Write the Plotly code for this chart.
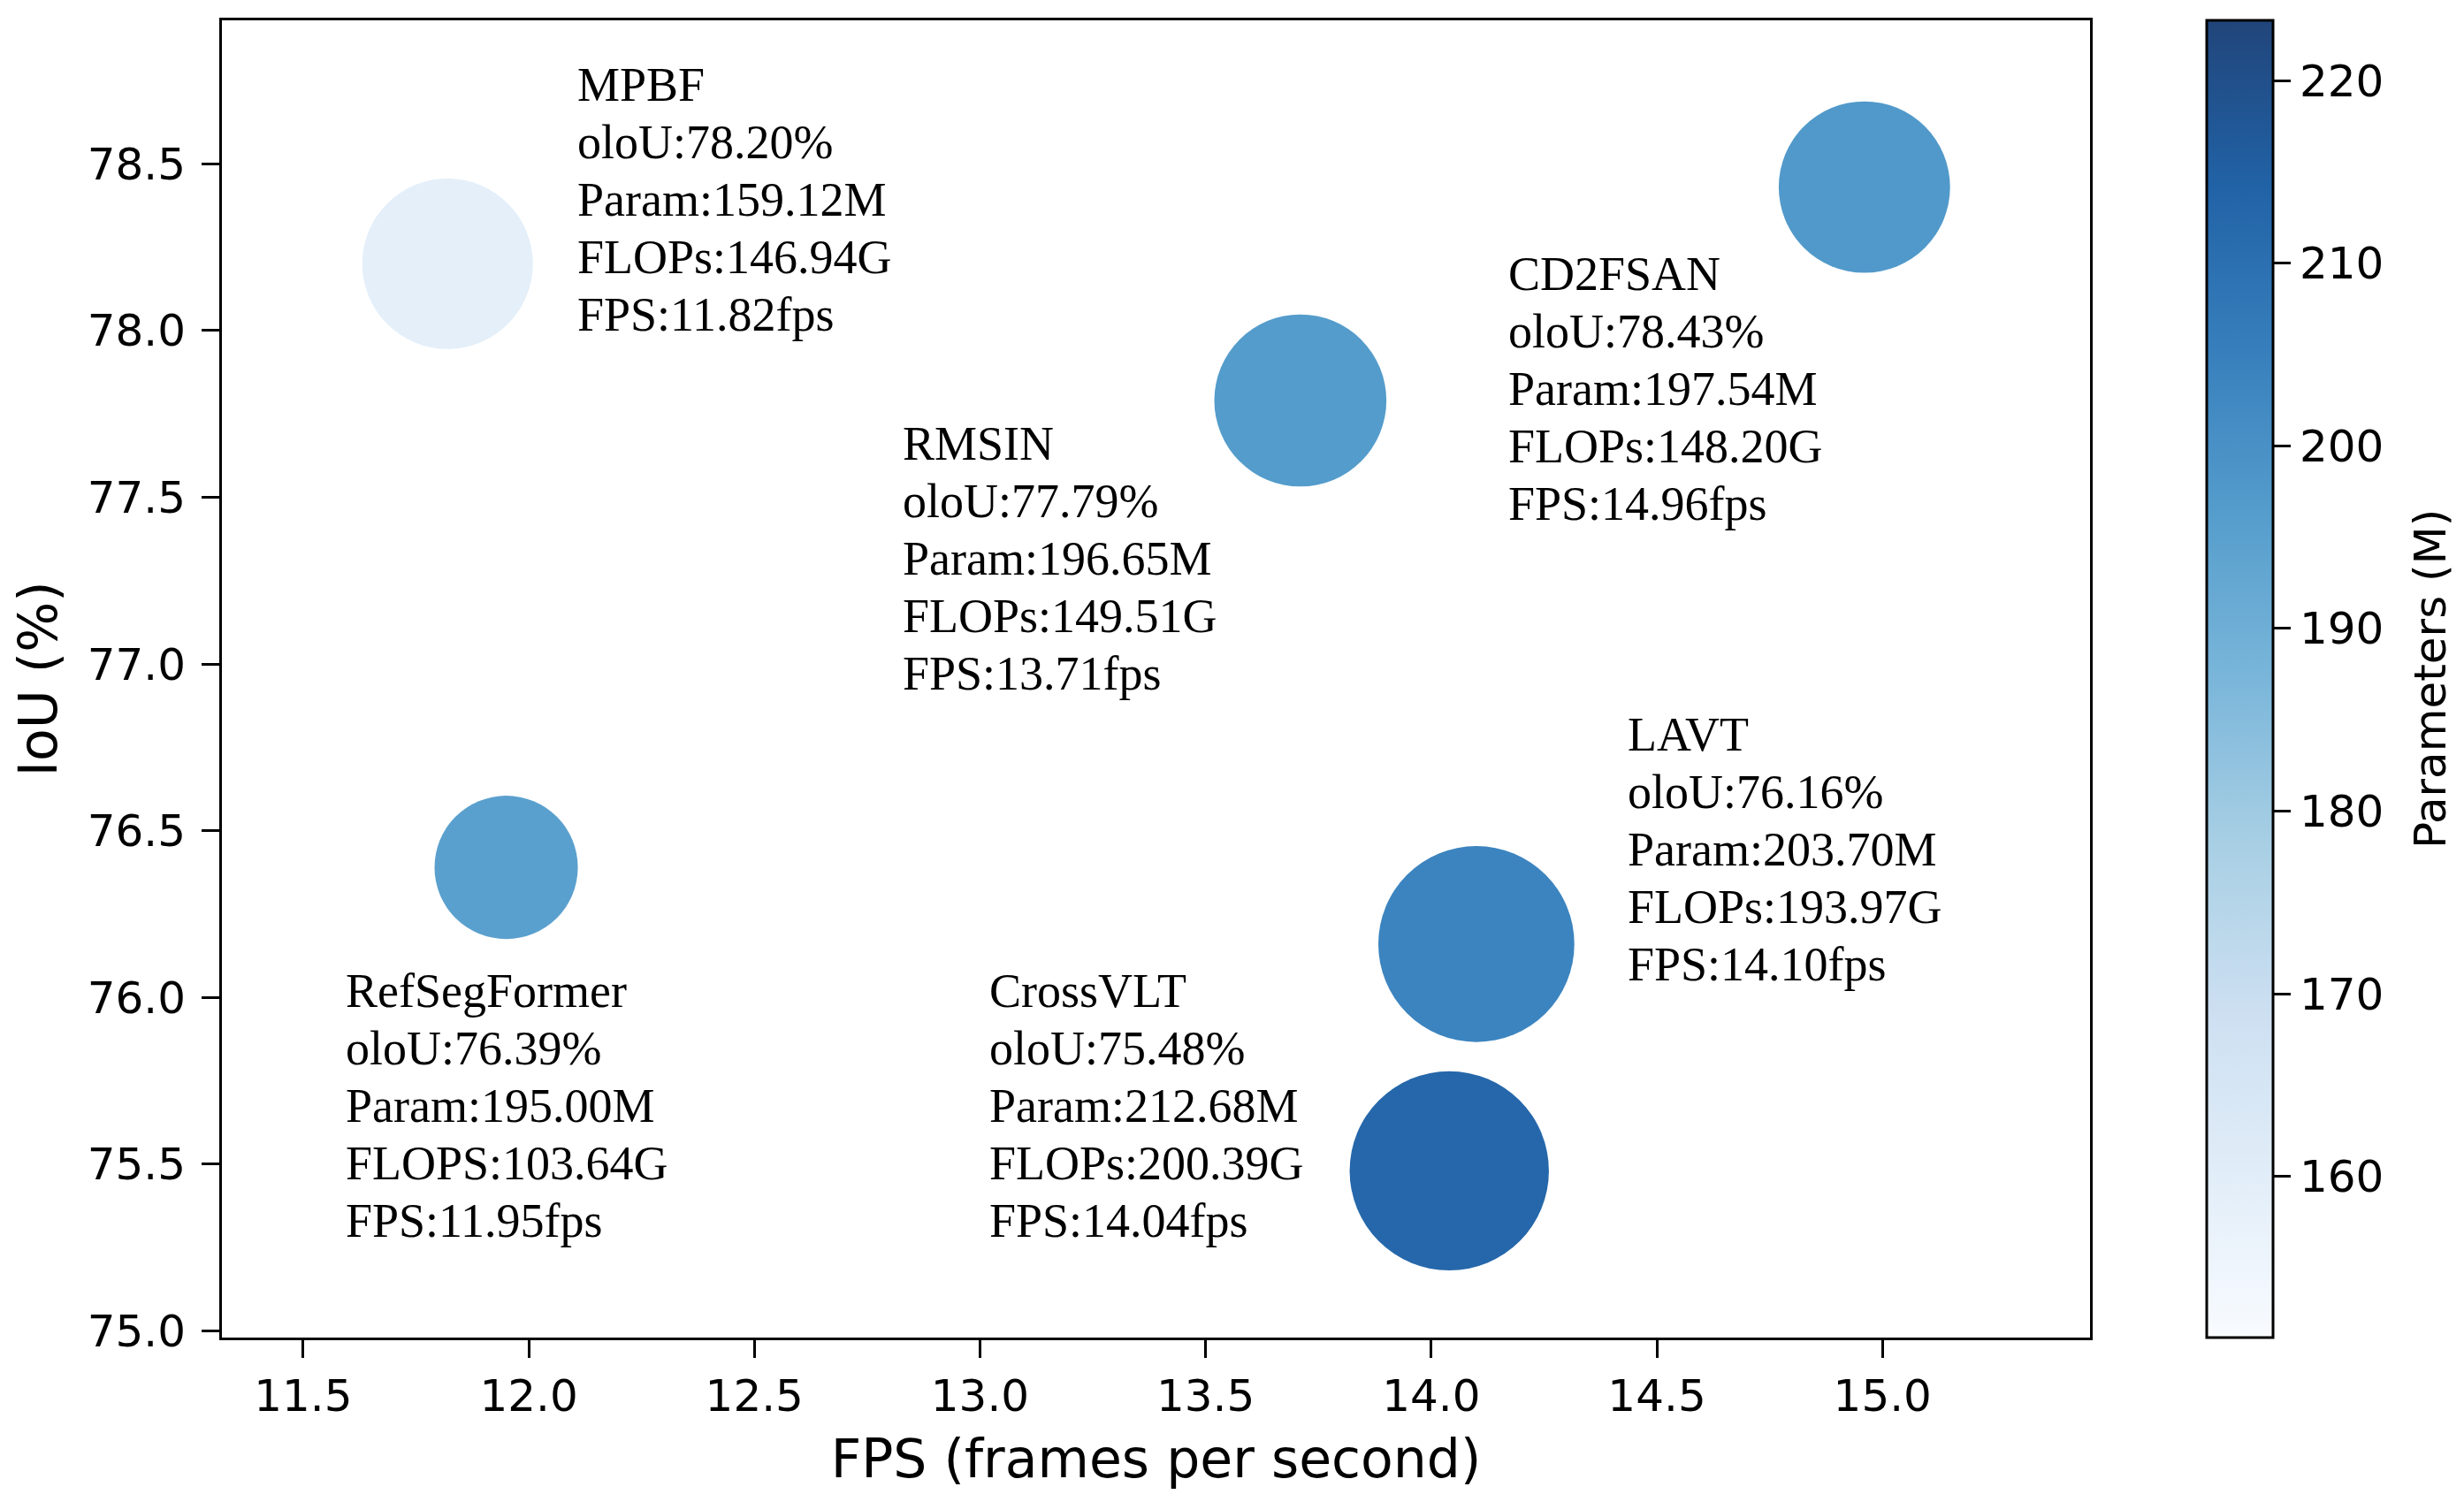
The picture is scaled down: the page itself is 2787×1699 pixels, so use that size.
import numpy as np
import plotly.graph_objects as go

# ---------------- data ----------------
models = ["MPBF", "RMSIN", "CD2FSAN", "RefSegFormer", "CrossVLT", "LAVT"]
fps = [11.82, 13.71, 14.96, 11.95, 14.04, 14.10]
oiou = [78.20, 77.79, 78.43, 76.39, 75.48, 76.16]
params = [159.12, 196.65, 197.54, 195.00, 212.68, 203.70]
flops = [146.94, 149.51, 148.20, 103.64, 200.39, 193.97]
flops_key = ["FLOPs", "FLOPs", "FLOPs", "FLOPS", "FLOPs", "FLOPs"]

x_ticks = [11.5, 12.0, 12.5, 13.0, 13.5, 14.0, 14.5, 15.0]
y_ticks = [75.0, 75.5, 76.0, 76.5, 77.0, 77.5, 78.0, 78.5]
cb_ticks = [160, 170, 180, 190, 200, 210, 220]

# ---------------- style / layout ----------------
BODY = 8                      # default browser body margin
W, H = 2787 - 2 * BODY, 1699 - 2 * BODY
# target plot area in page pixels: x 251..2364, y 23..1513
ML = 251 - BODY
MT = 23 - BODY
MR = BODY + W - 2364
MB = BODY + H - 1513
PW = W - ML - MR
PH = H - MT - MB

# label offsets (relative to each bubble, in data units) for the first text line
label_dx = [0.283, -0.886, -0.794, -0.359, -1.024, 0.331]
label_dy = [0.536, -0.13, -0.26, -0.372, 0.538, 0.627]
LINE_PX = 65
SERIF = "Liberation Serif, Times New Roman, serif"
SANS = "DejaVu Sans, sans-serif"

blues = ['rgb(247,251,255)', 'rgb(222,235,247)', 'rgb(198,219,239)',
         'rgb(158,202,225)', 'rgb(107,174,214)', 'rgb(66,146,198)',
         'rgb(33,113,181)', 'rgb(8,81,156)', 'rgb(8,48,107)']
alpha = 0.9


def blend(c):
    r, g, b = [int(v) for v in c[4:-1].split(',')]
    f = lambda v: int(round(v * alpha + 255 * (1 - alpha)))
    return f"rgb({f(r)},{f(g)},{f(b)})"


cscale = [[i / (len(blues) - 1), blend(c)] for i, c in enumerate(blues)]
cmin = min(params) * 0.95
cmax = max(params) * 1.05

xr = [min(fps) - 0.5, max(fps) + 0.5]
yr = [min(oiou) - 0.5, max(oiou) + 0.5]

diam = 15.92 * np.sqrt(np.array(flops))

fig = go.Figure()
fig.add_trace(go.Scatter(
    x=fps, y=oiou, mode="markers",
    marker=dict(
        size=diam, sizemode="diameter",
        color=params, colorscale=cscale, cmin=cmin, cmax=cmax,
        line=dict(width=0), opacity=1,
        showscale=True,
        colorbar=dict(
            thickness=75, thicknessmode="pixels",
            len=PH, lenmode="pixels",
            x=(2496 - 251) / PW, xanchor="left", xpad=0,
            y=0.5, yanchor="middle", ypad=0,
            outlinewidth=3, outlinecolor="black",
            ticks="outside", ticklen=19, tickwidth=3, tickcolor="black",
            tickvals=cb_ticks, ticktext=[str(v) for v in cb_ticks],
            tickfont=dict(family=SANS, size=50, color="black"),
        ),
    ),
    hoverinfo="skip", showlegend=False,
))

annotations = []
for i, name in enumerate(models):
    lines = [
        name,
        f"oloU:{oiou[i]:.2f}%",
        f"Param:{params[i]:.2f}M",
        f"{flops_key[i]}:{flops[i]:.2f}G",
        f"FPS:{fps[i]:.2f}fps",
    ]
    for j, t in enumerate(lines):
        annotations.append(dict(
            x=fps[i] + label_dx[i], y=oiou[i] + label_dy[i],
            xref="x", yref="y", text=t, showarrow=False,
            xanchor="left", yanchor="middle", yshift=-j * LINE_PX,
            font=dict(family=SERIF, size=54, color="black"),
        ))

# colorbar title
annotations.append(dict(
    x=(2749 - 251) / PW, y=0.5, xref="paper", yref="paper",
    text="Parameters (M)", textangle=-90, showarrow=False,
    xanchor="center", yanchor="middle",
    font=dict(family=SANS, size=50, color="black"),
))

axis_common = dict(
    showline=True, linewidth=3, linecolor="black", mirror=True,
    ticks="outside", ticklen=20, tickwidth=3, tickcolor="black",
    showgrid=False, zeroline=False,
    tickfont=dict(family=SANS, size=50, color="black"),
)

fig.update_layout(
    width=W, height=H,
    margin=dict(l=ML, r=MR, t=MT, b=MB, autoexpand=False),
    paper_bgcolor="white", plot_bgcolor="white",
    xaxis=dict(range=xr, tickvals=x_ticks, ticktext=[f"{v:.1f}" for v in x_ticks],
               title=dict(text="FPS (frames per second)", standoff=22,
                          font=dict(family=SANS, size=60, color="black")),
               **axis_common),
    yaxis=dict(range=yr, tickvals=y_ticks, ticktext=[f"{v:.1f}" for v in y_ticks],
               ticklabelstandoff=8,
               title=dict(text="IoU (%)", standoff=17,
                          font=dict(family=SANS, size=60, color="black")),
               **axis_common),
    annotations=annotations,
)

fig.write_html("out.html")
